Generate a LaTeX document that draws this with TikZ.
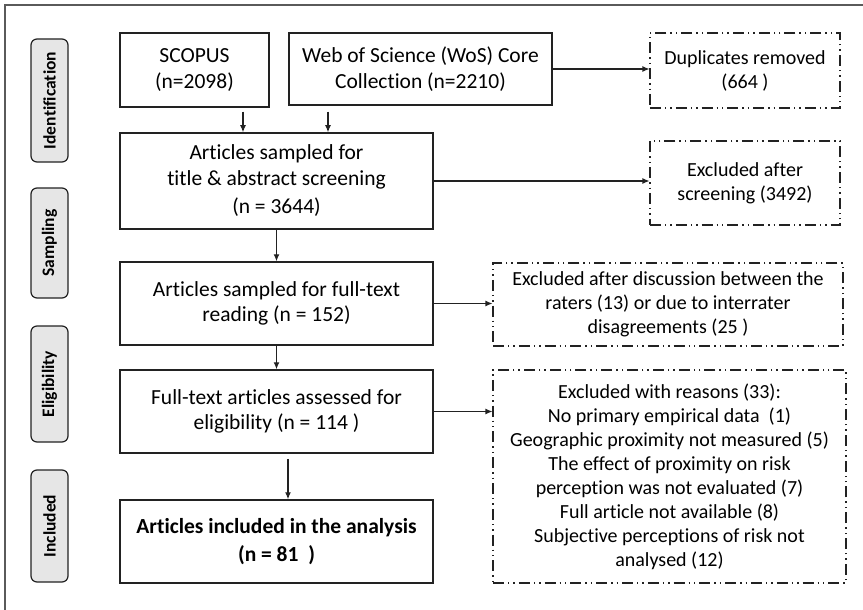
\documentclass[tikz,border=0pt]{standalone}
\usepackage{fontspec}
\setmainfont{Carlito}[Ligatures=NoCommon]
\usetikzlibrary{arrows.meta}
\definecolor{lblfill}{HTML}{E6E6E6}
\definecolor{frm}{HTML}{5A5A5A}
\definecolor{ink}{HTML}{222222}
\tikzset{
  mainbox/.style={draw=ink, line width=1.5pt, align=center, inner sep=0pt, font=\fontsize{21.5}{25.5}\selectfont},
  exbox/.style={draw=ink, line width=1.1pt, align=center, inner sep=0pt,
    dash pattern=on 11pt off 4pt on 1.4pt off 4pt on 1.4pt off 4pt,
    font=\fontsize{20}{24}\selectfont},
  stagebox/.style={draw=ink, fill=lblfill, line width=1.2pt, rounded corners=6pt,
    minimum width=37pt, inner sep=0pt},
  stagetext/.style={rotate=90, font=\fontsize{17.5}{21}\selectfont\bfseries},
  arr/.style={draw=ink, line width=1.1pt, -{Latex[length=7pt,width=6pt]}}
}
\begin{document}
\begin{tikzpicture}[x=1pt,y=-1pt]
\useasboundingbox (0,0) rectangle (863,610);
\fill[white] (0,0) rectangle (863,610);
% outer frame (right and bottom edges fall outside the picture)
\draw[frm, line width=1.6pt] (5,5) rectangle (875,625);

% stage labels
\node[stagebox, minimum height=123pt] (sid) at (49.5,100.5) {};
\node[stagetext] (tid) at (sid.center) {Identification};
\node[stagebox, minimum height=110pt] (ssa) at (49.5,243) {};
\node[stagetext] (tsa) at (ssa.center) {Sampling};
\node[stagebox, minimum height=116pt] (sel) at (49.5,384) {};
\node[stagetext] (tel) at (sel.center) {Eligibility};
\node[stagebox, minimum height=112pt] (sin) at (49.5,526) {};
\node[stagetext] (tin) at (sin.center) {Included};

% main boxes
\node[mainbox, minimum width=149pt, minimum height=74pt] (scopus) at (194.5,70) {SCOPUS\\(n=2098)};
\node[mainbox, minimum width=263pt, minimum height=72pt] (wos) at (420.5,69) {Web of Science (WoS) Core\\Collection (n=2210)};
\node[mainbox, minimum width=313pt, minimum height=96pt] (art) at (276.5,181) {Articles sampled for\\title \& abstract screening\\[3pt](n = 3644)};
\node[mainbox, minimum width=313pt, minimum height=83pt] (read) at (276.5,303.5) {Articles sampled for full-text\\reading (n = 152)};
\node[mainbox, minimum width=313pt, minimum height=83pt] (assess) at (276.5,411.5) {Full-text articles assessed for\\eligibility (n = 114 )};
\node[mainbox, minimum width=313pt, minimum height=83pt, font=\fontsize{21.5}{28}\selectfont\bfseries] (incl) at (276.5,541.5) {Articles included in the analysis\\(n = 81~~)};

% exclusion boxes
\node[exbox, minimum width=190pt, minimum height=75pt] (dup) at (745,70.5) {Duplicates removed\\(664 )};
\node[exbox, minimum width=190pt, minimum height=84pt] (scr) at (745,183) {Excluded after\\screening (3492)};
\node[exbox, minimum width=350pt, minimum height=83pt] (disc) at (668,304.5) {Excluded after discussion between the\\raters (13) or due to interrater\\disagreements (25 )};
\node[exbox, minimum width=353pt, minimum height=213pt] (reas) at (669.5,476.5) {Excluded with reasons (33):\\No primary empirical data~~(1)\\Geographic proximity not measured (5)\\The effect of proximity on risk\\perception was not evaluated (7)\\Full article not available (8)\\Subjective perceptions of risk not\\analysed (12)};

% connectors
\draw[arr] ([xshift=48.5pt,yshift=-4pt]scopus.south) -- ([xshift=48.5pt]scopus.south |- art.north);
\draw[arr] ([xshift=-92.5pt,yshift=-6pt]wos.south) -- ([xshift=-92.5pt]wos.south |- art.north);
\draw[arr] (wos.east) -- (wos.east -| dup.west);
\draw[arr] (art.east) -- (art.east -| scr.west);
\draw[arr] (art.south) -- (read.north);
\draw[arr] (read.east) -- (read.east -| disc.west);
\draw[arr] (read.south) -- (assess.north);
\draw[arr] (assess.east) -- (assess.east -| reas.west);
\draw[arr] ([xshift=11.5pt,yshift=-5pt]assess.south) -- ([xshift=11.5pt]assess.south |- incl.north);
\end{tikzpicture}
\end{document}
